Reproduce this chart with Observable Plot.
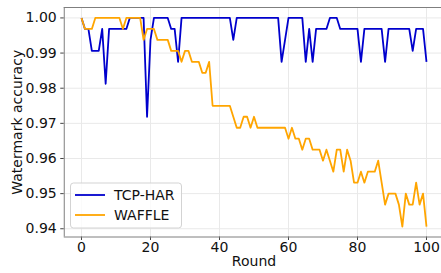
<!DOCTYPE html>
<html><head><meta charset="utf-8">
<script src="https://cdn.jsdelivr.net/npm/d3@7"></script>
<script src="https://cdn.jsdelivr.net/npm/@observablehq/plot@0.6"></script>
<style>
body{margin:0;background:#fff;}
#chart svg{display:block;}
</style>
</head><body>
<div id="chart"></div>
<script>
const seriesNames = ["TCP-HAR", "WAFFLE"];
const seriesColors = ["#0000cd", "#ffa500"];
const xTicks = [0, 20, 40, 60, 80, 100];
const yTicks = [0.94, 0.95, 0.96, 0.97, 0.98, 0.99, 1.00];
const rounds = d3.range(0, 101);

const tcpHar = [
  1.0, 0.996875, 0.996875, 0.990625, 0.990625, 0.990625, 0.996875, 0.98125, 0.996875, 0.996875, // 0-9
  0.996875, 0.996875, 0.996875, 0.996875, 1.0, 1.0, 1.0, 1.0, 1.0, 0.971875,                    // 10-19
  0.99375, 1.0, 1.0, 1.0, 1.0, 1.0, 0.996875, 0.996875, 0.9875, 1.0,                              // 20-29
  1.0, 1.0, 1.0, 1.0, 1.0, 1.0, 1.0, 1.0, 1.0, 1.0,                                               // 30-39
  1.0, 1.0, 1.0, 1.0, 0.99375, 1.0, 1.0, 1.0, 1.0, 1.0,                                           // 40-49
  1.0, 1.0, 1.0, 1.0, 1.0, 1.0, 1.0, 1.0, 0.9875, 0.99375,                                        // 50-59
  1.0, 1.0, 1.0, 1.0, 1.0, 0.9875, 0.996875, 0.9875, 0.996875, 0.996875,                          // 60-69
  0.996875, 0.996875, 1.0, 1.0, 1.0, 0.996875, 0.996875, 0.996875, 0.996875, 0.996875,            // 70-79
  0.996875, 0.9875, 0.996875, 0.996875, 0.996875, 0.996875, 0.996875, 0.996875, 0.9875, 0.996875, // 80-89
  0.996875, 0.996875, 0.996875, 0.996875, 0.996875, 0.996875, 0.990625, 0.996875, 0.996875, 0.996875, // 90-99
  0.9875                                                                                          // 100
];
const waffle = [
  1.0, 0.996875, 0.996875, 0.996875, 1.0, 1.0, 1.0, 1.0, 1.0, 1.0,                                // 0-9
  1.0, 1.0, 0.996875, 1.0, 1.0, 1.0, 1.0, 1.0, 0.99375, 0.996875,                                 // 10-19
  0.996875, 0.996875, 0.99375, 0.99375, 0.99375, 0.99375, 0.990625, 0.990625, 0.990625, 0.9875,   // 20-29
  0.990625, 0.990625, 0.9875, 0.9875, 0.9875, 0.984375, 0.984375, 0.9875, 0.975, 0.975,           // 30-39
  0.975, 0.975, 0.975, 0.975, 0.971875, 0.96875, 0.96875, 0.971875, 0.971875, 0.96875,            // 40-49
  0.971875, 0.96875, 0.96875, 0.96875, 0.96875, 0.96875, 0.96875, 0.96875, 0.96875, 0.96875,      // 50-59
  0.965625, 0.96875, 0.965625, 0.965625, 0.9625, 0.965625, 0.965625, 0.9625, 0.9625, 0.9625,      // 60-69
  0.959375, 0.9625, 0.959375, 0.95625, 0.9625, 0.9625, 0.95625, 0.9625, 0.959375, 0.953125,       // 70-79
  0.953125, 0.95625, 0.953125, 0.95625, 0.95625, 0.95625, 0.959375, 0.953125, 0.946875, 0.95,     // 80-89
  0.95, 0.95, 0.946875, 0.940625, 0.95, 0.946875, 0.946875, 0.953125, 0.946875, 0.95,             // 90-99
  0.940625                                                                                        // 100
];

const data = [
  ...rounds.map((r, i) => ({round: r, value: tcpHar[i], series: seriesNames[0]})),
  ...rounds.map((r, i) => ({round: r, value: waffle[i], series: seriesNames[1]}))
];

const xDomain = [-5, 104.35];
const yDomain = [0.93765625, 1.00296875];
const frameColor = "#7f7f7f";

const chart = Plot.plot({
  width: 441,
  height: 273,
  marginLeft: 63.75,
  marginRight: 0,
  marginTop: 7,
  marginBottom: 36.5,
  style: {fontFamily: "DejaVu Sans", fontSize: "14px", color: "#111", background: "#fff"},
  x: {domain: xDomain, axis: null},
  y: {domain: yDomain, axis: null},
  color: {domain: seriesNames, range: seriesColors},
  marks: [
    Plot.gridX(xTicks, {stroke: "#e9e9e9", strokeOpacity: 1, strokeWidth: 1}),
    Plot.gridY(yTicks, {stroke: "#e9e9e9", strokeOpacity: 1, strokeWidth: 1}),
    Plot.axisX(xTicks, {tickSize: 3.5, tickPadding: 2, fontSize: 14, stroke: "#444", fill: "#111", label: null}),
    Plot.axisY(yTicks, {tickSize: 3.5, tickPadding: 4, fontSize: 14, stroke: "#444", fill: "#111", tickFormat: d3.format(".2f"), label: null}),
    Plot.line(data, {x: "round", y: "value", z: "series", stroke: "series", strokeWidth: 1.8, strokeLinejoin: "round", strokeLinecap: "butt"}),
    Plot.ruleX([xDomain[0]], {stroke: frameColor, strokeWidth: 1}),
    Plot.ruleY([yDomain[0], yDomain[1]], {stroke: frameColor, strokeWidth: 1}),
    Plot.text(["Watermark accuracy"], {frameAnchor: "left", textAnchor: "middle", dx: -47, rotate: -90, fontSize: 14, fill: "#111"}),
    Plot.text(["Round"], {x: [50], frameAnchor: "bottom", dy: 29, fontSize: 14, fill: "#111"})
  ]
});
document.getElementById("chart").appendChild(chart);

// Legend inside the plot area (lower left)
const svg = d3.select(chart);
const lg = svg.append("g").attr("font-family", "DejaVu Sans").attr("font-size", 14).attr("text-anchor", "start");
lg.append("rect").attr("x", 70.5).attr("y", 183).attr("width", 111).attr("height", 45)
  .attr("rx", 3).attr("fill", "rgba(255,255,255,0.8)").attr("stroke", "#d3d3d3").attr("stroke-width", 1);
seriesNames.forEach((name, i) => {
  const y = 195 + i * 20;
  lg.append("line").attr("x1", 75).attr("x2", 105).attr("y1", y).attr("y2", y)
    .attr("stroke", seriesColors[i]).attr("stroke-width", 1.8);
  lg.append("text").attr("x", 114).attr("y", y).attr("dy", "0.36em").attr("text-anchor", "start").attr("fill", "#111").text(name);
});
</script>
</body></html>
